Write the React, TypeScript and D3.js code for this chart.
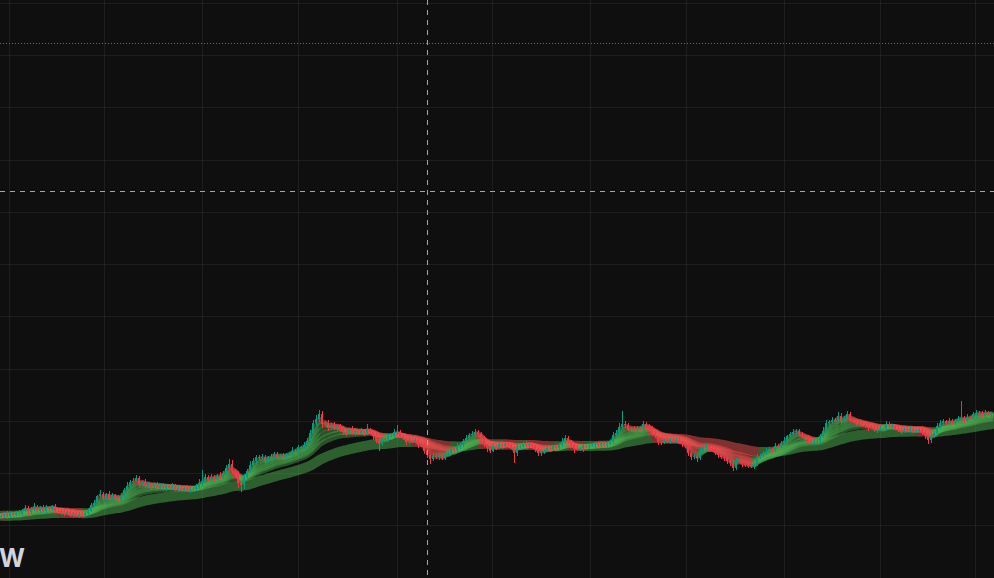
import * as d3 from "d3";
import React, { useMemo } from "react";

const W = 994;
const H = 578;

// daily closes, one per bar (price units)
const closes = [
  11.9, 12.3, 11.8, 12.4, 12.1, 12.5, 12.2, 12.9, 13.4, 12.7,
  13.2, 13.6, 12.9, 13.4, 12.8, 13.5, 13.2, 13.6, 12.9, 12.6,
  12.9, 12.3, 12.6, 12.0, 12.4, 11.9, 12.3, 12.0, 12.5, 12.9,
  13.9, 14.4, 15.6, 16.1, 15.3, 16.0, 15.2, 15.8, 15.4, 15.0,
  15.6, 16.9, 17.6, 18.4, 18.6, 19.1, 18.1, 18.3, 17.7, 17.9,
  17.5, 17.8, 17.3, 17.7, 17.2, 17.6, 17.3, 17.5, 17.1, 17.3,
  16.9, 17.2, 16.9, 17.1, 17.0, 17.5, 18.2, 18.6, 19.3, 18.8,
  19.4, 19.0, 19.6, 19.3, 20.1, 21.0, 21.9, 20.5, 19.9, 18.2,
  17.8, 19.3, 20.5, 21.6, 22.4, 23.2, 22.9, 23.1, 22.5, 23.1,
  23.0, 23.8, 23.2, 23.4, 23.1, 23.6, 23.8, 24.4, 24.3, 25.0,
  24.9, 25.4, 26.3, 27.7, 29.6, 30.4, 31.3, 29.4, 29.6, 28.7,
  29.3, 28.8, 29.0, 28.4, 28.0, 27.6, 28.3, 27.8, 28.2, 27.7,
  28.1, 27.7, 28.4, 27.9, 27.1, 26.3, 25.6, 26.5, 26.6, 27.2,
  27.2, 27.9, 28.0, 27.1, 26.8, 26.1, 26.3, 26.2, 26.4, 25.5,
  25.4, 24.4, 23.6, 22.7, 23.3, 23.1, 23.6, 22.9, 23.8, 24.0,
  24.6, 24.5, 25.2, 25.5, 26.3, 26.7, 27.4, 27.5, 28.0, 27.6,
  26.7, 25.4, 24.8, 24.4, 25.2, 25.1, 25.6, 25.2, 25.7, 25.4,
  25.0, 24.0, 25.0, 25.2, 25.6, 25.4, 25.7, 25.2, 24.6, 24.0,
  24.1, 24.4, 24.8, 24.7, 25.2, 24.8, 25.4, 26.1, 26.8, 26.2,
  25.4, 24.6, 24.7, 24.8, 25.2, 25.1, 25.3, 25.4, 25.7, 25.4,
  25.9, 25.4, 25.7, 26.1, 27.3, 27.8, 28.9, 29.5, 29.3, 28.6,
  28.5, 28.3, 28.6, 28.5, 29.4, 29.1, 28.6, 27.5, 27.1, 26.1,
  25.9, 26.3, 26.2, 26.4, 26.3, 26.4, 25.9, 25.7, 25.2, 24.0,
  23.2, 23.4, 22.9, 24.2, 24.8, 25.2, 24.8, 24.6, 24.0, 23.6,
  23.1, 22.9, 22.3, 22.1, 21.1, 22.3, 22.5, 21.9, 21.7, 21.6,
  21.5, 21.7, 23.1, 23.4, 24.0, 24.2, 24.6, 24.5, 25.2, 25.1,
  25.9, 26.3, 27.1, 27.5, 28.0, 28.2, 27.5, 27.1, 26.7, 26.5,
  26.1, 26.2, 26.3, 27.1, 28.2, 29.6, 29.9, 30.3, 30.2, 31.1,
  30.1, 30.7, 31.3, 30.3, 30.1, 29.6, 29.7, 29.2, 29.3, 28.8,
  28.9, 28.4, 28.4, 28.6, 28.5, 29.4, 29.0, 29.1, 28.6, 28.4,
  28.0, 28.4, 28.3, 28.5, 28.1, 28.3, 28.4, 28.0, 27.3, 26.5,
  27.1, 27.8, 29.0, 29.6, 30.0, 29.6, 30.0, 29.6, 30.1, 30.5,
  30.6, 30.1, 30.7, 30.6, 31.3, 31.5, 31.6, 31.1, 31.5, 31.3, 31.4,
];
const firstOpen = 11.6;

// wick lengths above the body / below the body
const upWicks = [
  0.4, 0.3, 0.6, 0.4, 0.3, 0.4, 0.6, 0.3, 0.6, 0.4,
  0.3, 0.7, 0.4, 0.3, 0.6, 0.4, 0.3, 0.4, 0.6, 0.3,
  0.4, 0.3, 0.4, 0.6, 0.3, 0.4, 0.3, 0.6, 0.4, 0.3,
  0.4, 0.6, 0.3, 0.8, 0.4, 0.3, 0.6, 0.4, 0.3, 0.4,
  0.6, 0.4, 0.7, 0.3, 0.6, 0.6, 0.4, 0.3, 0.6, 0.4,
  0.3, 0.4, 0.6, 0.3, 0.4, 0.4, 0.3, 0.6, 0.4, 0.3,
  0.4, 0.3, 0.6, 0.4, 0.3, 0.4, 0.7, 2.0, 0.6, 0.4,
  0.6, 0.4, 0.3, 0.7, 0.4, 0.6, 0.8, 0.7, 0.4, 0.6,
  0.4, 0.6, 0.4, 0.7, 0.6, 0.4, 0.3, 0.6, 0.4, 0.3,
  0.6, 0.4, 0.3, 0.4, 0.6, 0.3, 0.4, 0.6, 0.3, 0.4,
  0.3, 0.6, 0.4, 0.7, 0.6, 0.8, 0.9, 0.6, 0.4, 0.7,
  0.4, 0.6, 0.3, 0.4, 0.6, 0.3, 0.4, 0.7, 0.3, 0.4,
  0.6, 0.3, 1.1, 0.4, 0.3, 0.6, 0.4, 0.4, 0.6, 0.3,
  0.4, 0.6, 1.3, 0.4, 0.3, 0.4, 0.6, 0.3, 0.4, 0.6,
  0.3, 0.4, 0.3, 0.4, 0.6, 0.3, 0.4, 0.3, 0.6, 0.4,
  0.4, 0.3, 0.6, 0.4, 0.3, 0.6, 0.4, 0.7, 0.6, 0.4,
  0.3, 0.4, 0.3, 0.6, 0.4, 0.3, 0.4, 0.6, 0.3, 0.4,
  0.4, 0.3, 0.6, 0.3, 0.4, 0.6, 0.3, 0.4, 0.3, 0.4,
  0.6, 0.3, 0.4, 0.6, 0.3, 0.4, 0.4, 0.6, 0.6, 0.4,
  0.3, 0.4, 0.6, 0.3, 0.4, 0.3, 0.6, 0.4, 0.3, 0.6,
  0.4, 0.3, 0.6, 0.4, 0.7, 0.6, 0.8, 2.4, 0.6, 0.4,
  0.3, 0.6, 0.4, 0.3, 0.7, 0.4, 0.3, 0.4, 0.6, 0.3,
  0.4, 0.3, 0.6, 0.4, 0.3, 0.4, 0.6, 0.3, 0.4, 0.6,
  0.3, 0.4, 0.3, 0.7, 0.6, 0.4, 0.3, 0.4, 0.6, 0.3,
  0.4, 0.3, 0.4, 0.3, 0.4, 0.6, 0.4, 0.3, 0.4, 0.3,
  0.4, 0.3, 0.6, 0.4, 0.3, 0.6, 0.4, 0.3, 0.6, 0.4,
  0.4, 0.6, 0.3, 0.4, 0.6, 0.4, 0.3, 0.4, 0.3, 0.6,
  0.3, 0.4, 0.6, 0.4, 0.7, 0.6, 0.4, 0.6, 0.4, 0.6,
  0.4, 0.3, 0.6, 0.4, 0.3, 0.4, 0.6, 0.3, 0.4, 0.3,
  0.4, 0.3, 0.6, 0.4, 0.3, 0.6, 0.4, 0.3, 0.4, 0.6,
  0.3, 0.4, 0.3, 0.6, 0.4, 0.3, 0.4, 0.6, 0.3, 0.4,
  0.6, 0.4, 0.7, 0.6, 0.4, 0.3, 0.6, 0.4, 0.3, 0.6,
  3.2, 0.4, 0.6, 0.3, 0.4, 0.7, 0.4, 0.3, 0.6, 0.4, 0.4,
];
const downWicks = [
  0.3, 0.4, 0.4, 0.3, 0.6, 0.3, 0.4, 0.4, 0.3, 0.6,
  0.4, 0.3, 0.6, 0.4, 0.3, 0.4, 0.6, 0.3, 0.4, 0.3,
  0.6, 0.4, 0.3, 0.4, 0.6, 0.3, 0.4, 0.3, 0.4, 0.6,
  0.3, 0.4, 0.6, 0.3, 0.4, 0.6, 0.3, 0.4, 0.6, 0.4,
  0.3, 0.4, 0.3, 0.6, 0.4, 0.3, 0.6, 0.4, 0.3, 0.4,
  0.6, 0.3, 0.4, 0.4, 0.3, 0.6, 0.4, 0.3, 0.4, 0.6,
  0.3, 0.4, 0.3, 0.6, 0.4, 0.3, 0.4, 0.6, 0.4, 0.3,
  0.4, 0.6, 0.3, 0.4, 0.3, 0.6, 0.4, 0.8, 0.6, 0.9,
  1.3, 0.7, 0.6, 0.4, 0.3, 0.6, 0.4, 0.3, 0.6, 0.4,
  0.3, 0.4, 0.6, 0.3, 0.4, 0.6, 0.3, 0.4, 0.3, 0.6,
  0.4, 0.3, 0.4, 0.6, 0.4, 0.3, 0.6, 0.7, 0.4, 0.6,
  0.3, 0.4, 0.6, 0.3, 0.7, 0.4, 0.3, 0.4, 0.6, 0.3,
  0.4, 0.6, 0.3, 0.4, 0.6, 0.4, 1.3, 0.4, 0.3, 0.6,
  0.3, 0.4, 0.6, 0.4, 0.3, 0.6, 0.4, 0.3, 0.4, 0.6,
  0.4, 0.6, 0.7, 0.9, 0.4, 0.3, 0.6, 0.4, 0.3, 0.4,
  0.3, 0.4, 0.3, 0.6, 0.4, 0.3, 0.4, 0.3, 0.4, 0.6,
  0.6, 0.4, 0.7, 0.4, 0.3, 0.6, 0.4, 0.3, 0.4, 0.6,
  0.4, 2.0, 0.6, 0.4, 0.3, 0.4, 0.6, 0.3, 0.4, 0.6,
  0.7, 0.4, 0.3, 0.6, 0.4, 0.3, 0.4, 0.3, 0.4, 0.6,
  0.4, 0.7, 0.3, 0.4, 0.6, 0.3, 0.4, 0.3, 0.6, 0.4,
  0.3, 0.4, 0.6, 0.3, 0.4, 0.3, 0.4, 0.3, 0.6, 0.4,
  0.6, 0.3, 0.4, 0.4, 0.3, 0.6, 0.4, 0.3, 0.4, 0.6,
  0.4, 0.3, 0.4, 0.6, 0.3, 0.4, 0.3, 0.6, 0.4, 0.7,
  0.6, 0.4, 0.7, 0.4, 0.3, 0.4, 0.6, 0.3, 0.4, 0.6,
  0.4, 0.6, 0.4, 0.6, 0.7, 0.4, 0.3, 0.6, 0.4, 0.6,
  0.4, 0.6, 0.3, 0.4, 0.3, 0.4, 0.3, 0.6, 0.4, 0.3,
  0.3, 0.4, 0.3, 0.4, 0.3, 0.6, 0.4, 0.3, 0.4, 0.6,
  0.4, 0.6, 0.3, 0.4, 0.3, 0.4, 0.6, 0.3, 0.4, 0.3,
  0.6, 0.3, 0.4, 0.4, 0.3, 0.6, 0.4, 0.3, 0.4, 0.6,
  0.3, 0.4, 0.6, 0.3, 0.4, 0.3, 0.6, 0.4, 0.3, 0.4,
  0.4, 0.3, 0.4, 0.6, 0.3, 0.4, 0.3, 0.6, 0.7, 0.9,
  0.6, 0.4, 0.3, 0.4, 0.6, 0.3, 0.4, 0.3, 0.4, 0.3,
  0.4, 0.6, 0.3, 0.4, 0.3, 0.6, 0.4, 0.3, 0.4, 0.3, 0.4,
];

// ribbon EMA lengths (in bars)
const fastPeriods = [3, 5, 8, 12, 16, 21];
const slowPeriods = [48];

// grid / crosshair / price line positions
const gridPrices = [0, 10, 20, 30, 40, 50, 60, 70, 80, 90, 100, 110];
const gridBars = [2.6, 34.4, 66.9, 98.9, 132.0, 163.6, 196.3, 228.4, 260.9, 293.1, 324.8];
const crosshairBar = 141.9;
const crosshairPrice = 74.0;
const priceLineLevel = 102.3;

const UP = "#089981";
const DOWN = "#f23645";

function ema(values: number[], period: number) {
  const k = 2 / (period + 1);
  const out: number[] = [];
  values.forEach((v, i) => out.push(i === 0 ? v : out[i - 1] + k * (v - out[i - 1])));
  return out;
}

// split a line into runs of rising / falling segments
function slopeRuns(vals: number[]) {
  const res: { up: boolean; idx: number[] }[] = [];
  for (let i = 1; i < vals.length; i++) {
    const up = vals[i] >= vals[i - 1];
    const last = res[res.length - 1];
    if (last && last.up === up) last.idx.push(i);
    else res.push({ up, idx: [i - 1, i] });
  }
  return res;
}

const App: React.FC = () => {
  const x = d3.scaleLinear().domain([0, closes.length - 1]).range([1.5, 1.5 + 3 * (closes.length - 1)]);
  const y = d3.scaleLinear().domain([0, 110]).range([H, 3.25]);

  const candles = useMemo(
    () =>
      closes.map((c, i) => {
        const o = i === 0 ? firstOpen : closes[i - 1];
        return { i, o, c, h: Math.max(o, c) + upWicks[i], l: Math.min(o, c) - downWicks[i] };
      }),
    []
  );

  const ribbon = (periods: number[], width: number, opacity: number) =>
    periods.map((p) => {
      const vals = ema(closes, p);
      const line = d3.line<number>().x((i) => x(i)).y((i) => y(vals[i]));
      return (
        <g key={p} opacity={opacity}>
          {slopeRuns(vals).map((r, k) => (
            <path
              key={k}
              d={line(r.idx) || ""}
              fill="none"
              stroke={r.up ? "#4caf50" : "#ef5350"}
              strokeWidth={width}
              strokeLinecap="round"
              strokeLinejoin="round"
            />
          ))}
        </g>
      );
    });

  const cx = Math.floor(x(crosshairBar)) + 0.5;
  const cy = Math.floor(y(crosshairPrice)) + 0.5;
  const py = Math.floor(y(priceLineLevel)) + 0.5;

  return (
    <svg width={W} height={H} style={{ position: "fixed", left: 0, top: 0, display: "block" }}>
      <rect width={W} height={H} fill="#0f0f0f" />
      <g stroke="rgba(242,242,242,0.07)" strokeWidth={1}>
        {gridPrices.map((p) => (
          <line key={p} x1={0} x2={W} y1={Math.floor(y(p)) + 0.5} y2={Math.floor(y(p)) + 0.5} />
        ))}
        {gridBars.map((b) => (
          <line key={b} y1={0} y2={H} x1={Math.floor(x(b)) + 0.5} x2={Math.floor(x(b)) + 0.5} />
        ))}
      </g>
      <line x1={0} x2={W} y1={py} y2={py} stroke="#089981" strokeDasharray="1 2" />

      {ribbon(slowPeriods, 10, 0.5)}
      {ribbon(fastPeriods, 5, 0.42)}

      <g shapeRendering="crispEdges">
        {candles.map((d) => {
          const col = d.c >= d.o ? UP : DOWN;
          const xc = x(d.i);
          const top = y(Math.max(d.o, d.c));
          const bot = y(Math.min(d.o, d.c));
          return (
            <g key={d.i} fill={col}>
              <rect x={xc - 1} y={y(d.h)} width={1} height={y(d.l) - y(d.h)} />
              <rect x={xc - 1.5} y={top} width={2} height={Math.max(1, bot - top)} />
            </g>
          );
        })}
      </g>

      <g stroke="#a3a6af" strokeWidth={1} strokeDasharray="5 5">
        <line x1={cx} x2={cx} y1={0} y2={H} />
        <line x1={0} x2={W} y1={cy} y2={cy} />
      </g>

      <text x={-1} y={567} fontFamily="Inter, Roboto, sans-serif" fontWeight={700} fontSize={25} fill="#d1d4dc">
        W
      </text>
    </svg>
  );
};

export default App;
